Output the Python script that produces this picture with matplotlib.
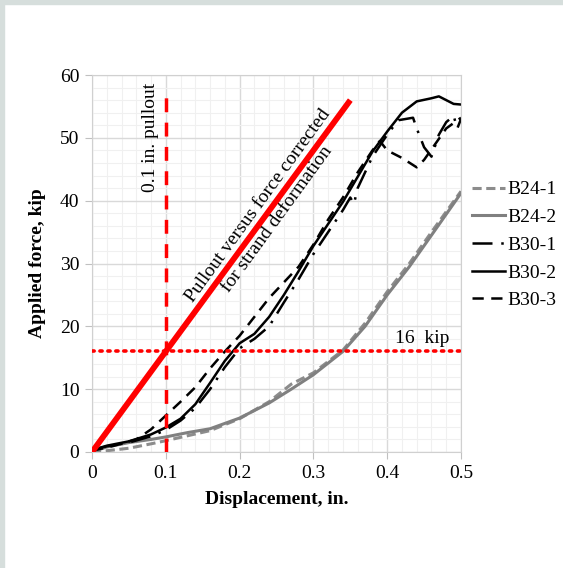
import matplotlib
matplotlib.use("Agg")
import matplotlib.pyplot as plt
from matplotlib.patches import Rectangle
from matplotlib.ticker import MultipleLocator, FuncFormatter

plt.rcParams["font.family"] = ["Liberation Serif", "DejaVu Serif"]

# Force-displacement data
b24_1_x = [0, 0.02, 0.05, 0.08, 0.10, 0.13, 0.16, 0.20, 0.24, 0.27, 0.30, 0.34, 0.37, 0.40, 0.43, 0.46, 0.50]
b24_1_y = [0, 0.2, 0.6, 1.3, 1.8, 2.6, 3.4, 5.3, 8.0, 10.8, 12.6, 16.2, 20.5, 25.5, 30.0, 35.0, 41.5]

b24_2_x = [0, 0.02, 0.05, 0.08, 0.10, 0.13, 0.16, 0.20, 0.24, 0.27, 0.30, 0.34, 0.37, 0.40, 0.43, 0.46, 0.50]
b24_2_y = [0, 0.8, 1.5, 2.0, 2.4, 3.1, 3.7, 5.4, 7.8, 10.0, 12.3, 16.0, 20.0, 25.0, 29.5, 34.5, 41.2]

b30_1_x = [0, 0.02, 0.05, 0.08, 0.10, 0.12, 0.14, 0.16, 0.18, 0.20, 0.22, 0.235, 0.24, 0.26, 0.28, 0.30,
           0.32, 0.34, 0.35, 0.355, 0.36, 0.38, 0.40, 0.415, 0.435, 0.44, 0.45, 0.46, 0.47, 0.48, 0.49, 0.495, 0.50]
b30_1_y = [0.3, 0.9, 1.5, 2.5, 3.5, 5.0, 7.0, 10.0, 13.5, 16.5, 18.0, 19.5, 20.0, 23.8, 27.5, 31.5,
           35.0, 38.5, 40.5, 39.5, 42.0, 47.0, 50.5, 52.8, 53.2, 51.5, 48.5, 47.0, 50.5, 52.5, 53.5, 51.5, 53.0]

b30_2_x = [0, 0.02, 0.05, 0.08, 0.10, 0.12, 0.14, 0.16, 0.18, 0.20, 0.22, 0.24, 0.26, 0.28, 0.30,
           0.32, 0.34, 0.36, 0.38, 0.40, 0.42, 0.44, 0.46, 0.47, 0.48, 0.49, 0.50]
b30_2_y = [0.3, 1.0, 1.7, 2.8, 3.9, 5.3, 7.6, 11.0, 14.5, 17.3, 18.8, 21.5, 25.0, 28.8, 32.8,
           36.3, 39.8, 43.8, 47.8, 51.0, 54.0, 55.8, 56.3, 56.6, 56.0, 55.4, 55.3]

b30_3_x = [0, 0.03, 0.06, 0.08, 0.10, 0.12, 0.14, 0.16, 0.18, 0.20, 0.22, 0.24, 0.26, 0.28, 0.30,
           0.32, 0.34, 0.36, 0.38, 0.39, 0.40, 0.42, 0.44, 0.45, 0.465, 0.48, 0.50]
b30_3_y = [0.2, 1.0, 2.0, 3.6, 5.8, 8.0, 10.3, 13.3, 16.0, 18.5, 21.5, 24.5, 27.0, 29.5, 33.0,
           37.0, 40.5, 44.5, 48.0, 49.5, 48.0, 46.8, 45.3, 46.5, 49.0, 51.5, 53.2]

# corrected pullout line and reference levels
corr_x = [0, 0.35]
corr_y = [0, 56.0]
pullout_x = 0.1
pullout_top = 58
force_16 = 16

fig = plt.figure(figsize=(5.63, 5.68), dpi=100)
fig.patches.append(Rectangle((0, 0), 4 / 563, 1, transform=fig.transFigure, color="#d6dedc", zorder=0))
fig.patches.append(Rectangle((0, 1 - 4 / 568), 1, 4 / 568, transform=fig.transFigure, color="#d6dedc", zorder=0))

ax = fig.add_axes([92 / 563, 1 - 452 / 568, 369 / 563, 377 / 568])

ax.set_xlim(0, 0.5)
ax.set_ylim(0, 60)
ax.xaxis.set_major_locator(MultipleLocator(0.1))
ax.xaxis.set_minor_locator(MultipleLocator(0.02))
ax.yaxis.set_major_locator(MultipleLocator(10))
ax.yaxis.set_minor_locator(MultipleLocator(2))
ax.xaxis.set_major_formatter(FuncFormatter(lambda v, p: f"{v:g}"))
ax.grid(which="major", color="#d9d9d9", lw=1.0, zorder=0)
ax.grid(which="minor", color="#f0f0f0", lw=0.8, zorder=0)
ax.set_axisbelow(True)
for s in ax.spines.values():
    s.set_color("#d0d0d0")
ax.tick_params(which="major", length=5, color="#c0c0c0", labelsize=14, pad=4)
ax.tick_params(which="minor", length=0)

ax.plot(b24_1_x, b24_1_y, color="#8c8c8c", lw=2.2, ls=(0, (3, 1.5)), label="B24-1")
ax.plot(b24_2_x, b24_2_y, color="#808080", lw=2.2, label="B24-2")
ax.plot(b30_1_x, b30_1_y, color="black", lw=1.8, ls=(0, (8, 3.5, 1, 3.5)), label="B30-1")
ax.plot(b30_2_x, b30_2_y, color="black", lw=1.8, label="B30-2")
ax.plot(b30_3_x, b30_3_y, color="black", lw=1.8, ls=(0, (4.5, 3)), label="B30-3")

ax.plot(corr_x, corr_y, color="#ff0000", lw=4.2, solid_capstyle="butt", zorder=5)
ax.plot([pullout_x, pullout_x], [0, pullout_top], color="#ff0000", lw=2.5, ls=(0, (4, 3)), zorder=4)
ax.plot([0, 0.5], [force_16, force_16], color="#ff0000", lw=2.6, ls=(0, (0.6, 1.6)),
        dash_capstyle="round", zorder=4)

ax.text(0.079, 50, "0.1 in. pullout", rotation=90, ha="center", va="center", fontsize=14)
ax.text(0.238, 38.1, "Pullout versus force corrected\nfor strand deformation", rotation=54,
        rotation_mode="anchor", ha="center", va="center", multialignment="center",
        fontsize=14, linespacing=1.45)
ax.text(0.447, 18, "16  kip", ha="center", va="center", fontsize=14)

ax.set_xlabel("Displacement, in.", fontsize=14, fontweight="bold", labelpad=7)
ax.set_ylabel("Applied force, kip", fontsize=14, fontweight="bold", labelpad=10)

fig.legend(loc="center left", bbox_to_anchor=(462 / 563, 1 - 245 / 568), frameon=False,
           fontsize=14, handlelength=1.7, handletextpad=0.15, labelspacing=0.52, borderpad=0)

fig.savefig("out.png", dpi=100)
